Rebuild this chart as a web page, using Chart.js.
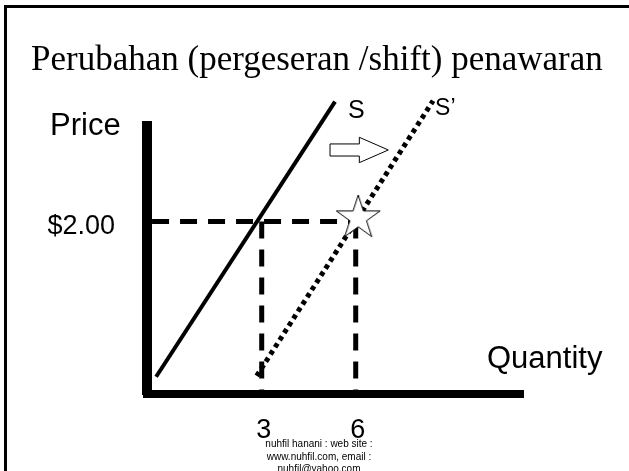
<!DOCTYPE html>
<html>
<head>
<meta charset="utf-8">
<script src="https://cdn.jsdelivr.net/npm/chart.js@4/dist/chart.umd.min.js"></script>
<style>
html,body{margin:0;padding:0;background:#fff;}
#wrap{position:relative;width:629px;height:471px;overflow:hidden;background:#fff;}
#frame{position:absolute;left:4px;top:5px;width:700px;height:600px;border-left:3px solid #000;border-top:3px solid #000;box-sizing:border-box;}
canvas{position:absolute;left:0;top:0;}
.t{position:absolute;white-space:nowrap;color:#000;line-height:1;}
#title{font-family:'Liberation Serif','Times New Roman',serif;font-size:35px;left:31px;top:41px;}
.lab{font-family:'Liberation Sans',Arial,sans-serif;font-size:31px;}
#price{left:50px;top:109px;}
#qty{left:487px;top:342px;}
#foot{font-family:'Liberation Sans',Arial,sans-serif;font-size:10px;line-height:12.5px;left:219px;top:438px;width:200px;text-align:center;}
</style>
</head>
<body>
<div id="wrap">
  <canvas id="c" width="629" height="471"></canvas>
  <div id="frame"></div>
  <div class="t" id="title">Perubahan (pergeseran /shift) penawaran</div>
  <div class="t lab" id="price">Price</div>
  <div class="t lab" id="qty">Quantity</div>
  <div class="t" id="foot">nuhfil hanani : web site :<br>www.nuhfil.com, email :<br>nuhfil@yahoo.com</div>
</div>
<script>
// ---- values ----
const quantityTicks = [3, 6];
const priceTicks = [2];
const supplyS = [{x: -0.37, y: 0.20}, {x: 5.34, y: 3.39}];
const supplyShifted = [{x: 2.84, y: 0.21}, {x: 8.47, y: 3.40}];
const equilibriumPrice = 2;
const quantityBefore = 3;
const quantityAfter = 6;
const guideStart = -0.5;
const newEquilibrium = [{x: 6.08, y: 2.04}];
const shiftArrow = [
  {x: 5.18, y: 2.899}, {x: 6.115, y: 2.899}, {x: 6.115, y: 2.976},
  {x: 7.04, y: 2.829}, {x: 6.115, y: 2.682}, {x: 6.115, y: 2.759},
  {x: 5.18, y: 2.759}, {x: 5.18, y: 2.899}
];
const curveNames = ['S', 'S\u2019'];

// ---- derived guide lines ----
const priceGuide = [{x: guideStart, y: equilibriumPrice}, {x: quantityAfter, y: equilibriumPrice}];
const guideBefore = [{x: quantityBefore, y: equilibriumPrice}, {x: quantityBefore, y: 0}];
const guideAfter = [{x: quantityAfter, y: equilibriumPrice}, {x: quantityAfter, y: 0}];

function starCanvas(R) {
  const c = document.createElement('canvas');
  const s = 50;
  c.width = s; c.height = s;
  const g = c.getContext('2d');
  const cx = s / 2, cy = s / 2, r = R * 0.382;
  g.beginPath();
  for (let i = 0; i < 10; i++) {
    const rad = i % 2 ? r : R;
    const a = -Math.PI / 2 + i * Math.PI / 5;
    g.lineTo(cx + rad * Math.cos(a), cy + rad * Math.sin(a));
  }
  g.closePath();
  g.fillStyle = '#fff'; g.fill();
  g.lineWidth = 1; g.strokeStyle = '#000'; g.stroke();
  return c;
}

const SANS = "'Liberation Sans', Arial, sans-serif";

const curveLabelPlugin = {
  id: 'curveLabels',
  afterDatasetsDraw(chart) {
    const ctx = chart.ctx;
    const specs = [
      {ds: 1, text: curveNames[0], size: 25, dx: 13, dy: 16.6},
      {ds: 2, text: curveNames[1], size: 23, dx: 2, dy: 14.3}
    ];
    ctx.save();
    ctx.fillStyle = '#000';
    ctx.textAlign = 'left';
    ctx.textBaseline = 'alphabetic';
    specs.forEach(s => {
      const meta = chart.getDatasetMeta(s.ds);
      const p = meta.data[meta.data.length - 1];
      ctx.font = s.size + 'px ' + SANS;
      ctx.fillText(s.text, p.x + s.dx, p.y + s.dy);
    });
    ctx.restore();
  }
};

new Chart(document.getElementById('c'), {
  type: 'scatter',
  data: {
    datasets: [
      {label: 'new equilibrium', data: newEquilibrium, pointStyle: starCanvas(23), pointRadius: 10, showLine: false, clip: false},
      {label: curveNames[0], data: supplyS, showLine: true, borderColor: '#000', borderWidth: 4, pointRadius: 0, clip: false},
      {label: curveNames[1], data: supplyShifted, showLine: true, borderColor: '#000', borderWidth: 5, borderDash: [4.5, 4], pointRadius: 0, clip: false},
      {label: 'price guide', data: priceGuide, showLine: true, borderColor: '#000', borderWidth: 5, borderDash: [17, 11], pointRadius: 0, clip: false},
      {label: 'q guide 3', data: guideBefore, showLine: true, borderColor: '#000', borderWidth: 5, borderDash: [17, 11], pointRadius: 0, clip: false},
      {label: 'q guide 6', data: guideAfter, showLine: true, borderColor: '#000', borderWidth: 5, borderDash: [17, 11], pointRadius: 0, clip: false},
      {label: 'shift', data: shiftArrow, showLine: true, borderColor: '#000', borderWidth: 1, backgroundColor: '#fff', fill: false, pointRadius: 0, tension: 0, clip: false}
    ]
  },
  options: {
    responsive: false,
    animation: false,
    devicePixelRatio: 1,
    layout: {padding: {left: 0, top: 126, right: 106, bottom: 0}},
    plugins: {legend: {display: false}, tooltip: {enabled: false}, title: {display: false}},
    scales: {
      x: {
        type: 'linear', min: -0.661, max: 11.339,
        afterFit: s => { s.height = 77; },
        afterBuildTicks: s => { s.ticks = quantityTicks.map(v => ({value: v})); },
        grid: {display: false, drawTicks: false},
        border: {display: true, width: 8, color: '#000'},
        ticks: {autoSkip: false, maxRotation: 0, padding: 20, labelOffset: 2, color: '#000', font: {family: SANS, size: 27}, callback: v => String(v)}
      },
      y: {
        type: 'linear', min: 0, max: 3.107,
        afterFit: s => { s.width = 147; },
        afterBuildTicks: s => { s.ticks = priceTicks.map(v => ({value: v})); },
        grid: {display: false, drawTicks: false},
        border: {display: true, width: 10, color: '#000'},
        ticks: {autoSkip: false, padding: 32, labelOffset: 5, color: '#000', font: {family: SANS, size: 27}, callback: v => '$' + Number(v).toFixed(2)}
      }
    }
  },
  plugins: [curveLabelPlugin]
});
</script>
</body>
</html>
